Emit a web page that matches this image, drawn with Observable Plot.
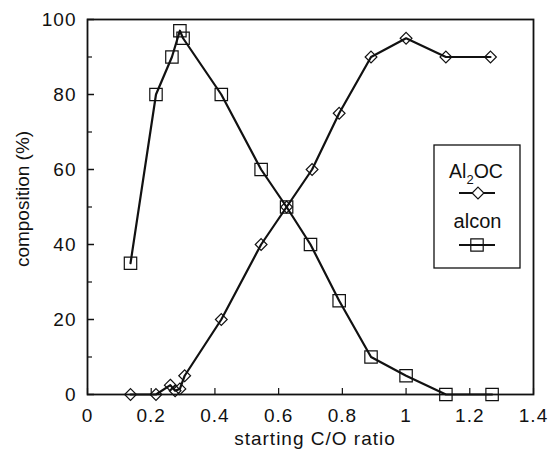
<!DOCTYPE html>
<html>
<head>
<meta charset="utf-8">
<script src="https://cdn.jsdelivr.net/npm/d3@7"></script>
<script src="https://cdn.jsdelivr.net/npm/@observablehq/plot@0.6"></script>
<style>
  html, body { margin: 0; padding: 0; background: #fff; }
  #chart svg { overflow: visible; display: block; }
  #chart svg g[aria-label="x-axis tick label"] text,
  #chart svg g[aria-label="y-axis tick label"] text { letter-spacing: 1px; }
</style>
</head>
<body>
<div id="chart"></div>
<script>
// ---- data ----
const al2ocX = [0.135, 0.215, 0.26, 0.275, 0.29, 0.305, 0.42, 0.545, 0.625, 0.705, 0.79, 0.89, 1.00, 1.125, 1.265];
const al2ocY = [0, 0, 2.5, 1, 1.5, 5, 20, 40, 50, 60, 75, 90, 95, 90, 90];
const alconX = [0.135, 0.215, 0.265, 0.29, 0.30, 0.42, 0.545, 0.625, 0.70, 0.79, 0.89, 1.00, 1.125, 1.27];
const alconY = [35, 80, 90, 97, 95, 80, 60, 50, 40, 25, 10, 5, 0, 0];
const xTicks = [0, 0.2, 0.4, 0.6, 0.8, 1, 1.2, 1.4];
const yTicks = [0, 20, 40, 60, 80, 100];
const yMinorTicks = [10, 30, 50, 70, 90];
const xLabel = "starting C/O ratio";
const yLabel = "composition (%)";
const seriesNames = ["Al2OC", "alcon"];

const al2oc = al2ocX.map((x, i) => ({x, y: al2ocY[i]}));
const alcon = alconX.map((x, i) => ({x, y: alconY[i]}));

const W = 549, H = 455;
const mL = 87, mR = 16, mT = 19, mB = 61;
const plotW = W - mL - mR, plotH = H - mT - mB;
const ink = "#111";
const font = "'Liberation Sans', Arial, Helvetica, sans-serif";

const plot = Plot.plot({
  width: W, height: H,
  marginLeft: mL, marginRight: mR, marginTop: mT, marginBottom: mB,
  style: {fontFamily: font, fontSize: "19px", color: ink, background: "#fff"},
  x: {domain: [0, 1.4]},
  y: {domain: [0, 100]},
  marks: [
    Plot.axisX({ticks: xTicks, tickSize: 0, tickPadding: 14, label: null, fontSize: 19, tickFormat: d => String(d)}),
    Plot.axisY({ticks: yTicks, tickSize: 0, tickPadding: 11, label: null, fontSize: 19}),
    // inward ticks
    Plot.tickY(yTicks, {y: d => d, stroke: ink, strokeWidth: 1.5, insetRight: plotW - 7}),
    Plot.tickY(yMinorTicks, {y: d => d, stroke: ink, strokeWidth: 1.2, insetRight: plotW - 5}),
    Plot.tickX(xTicks, {x: d => d, stroke: ink, strokeWidth: 1.2, insetTop: plotH - 6}),
    Plot.line(alcon, {x: "x", y: "y", stroke: ink, strokeWidth: 2.2}),
    Plot.line(al2oc, {x: "x", y: "y", stroke: ink, strokeWidth: 2.2}),
    Plot.dot(alcon, {x: "x", y: "y", symbol: "square", r: 7, fill: "none", stroke: ink, strokeWidth: 1.2}),
    Plot.dot(al2oc, {x: "x", y: "y", symbol: "diamond2", r: 5.3, fill: "none", stroke: ink, strokeWidth: 1.2}),
    Plot.frame({stroke: ink, strokeWidth: 1.8})
  ]
});
document.getElementById("chart").appendChild(plot);

// ---- titles and legend ----
const svg = d3.select(plot);
svg.append("text")
  .attr("x", 315).attr("y", 445)
  .attr("text-anchor", "middle")
  .attr("font-family", font).attr("font-size", 19)
  .attr("letter-spacing", "1px")
  .attr("fill", ink)
  .text(xLabel);
svg.append("text")
  .attr("transform", "translate(29,199) rotate(-90)")
  .attr("text-anchor", "middle")
  .attr("font-family", font).attr("font-size", 19)
  .attr("fill", ink)
  .text(yLabel);

const lg = svg.append("g");
lg.append("rect").attr("x", 434).attr("y", 145).attr("width", 86).attr("height", 123)
  .attr("fill", "#fff").attr("stroke", ink).attr("stroke-width", 1.3);
const t1 = lg.append("text").attr("x", 476).attr("y", 177.5).attr("text-anchor", "middle")
  .attr("font-family", font).attr("font-size", 19.5).attr("fill", ink);
t1.append("tspan").text("Al");
t1.append("tspan").attr("font-size", 13).attr("dy", 6).text("2");
t1.append("tspan").attr("dy", -6).text("OC");
lg.append("line").attr("x1", 459).attr("x2", 495).attr("y1", 193).attr("y2", 193)
  .attr("stroke", ink).attr("stroke-width", 2.2);
lg.append("path").attr("transform", "translate(478,193)")
  .attr("d", d3.symbol(d3.symbolDiamond2, 5.3 * 5.3 * Math.PI)())
  .attr("fill", "#fff").attr("stroke", ink).attr("stroke-width", 1.2);
lg.append("text").attr("x", 477.5).attr("y", 228).attr("text-anchor", "middle")
  .attr("font-family", font).attr("font-size", 20).attr("fill", ink).text(seriesNames[1]);
lg.append("line").attr("x1", 459).attr("x2", 495).attr("y1", 245).attr("y2", 245)
  .attr("stroke", ink).attr("stroke-width", 2.2);
lg.append("path").attr("transform", "translate(477,245)")
  .attr("d", d3.symbol(d3.symbolSquare, 7 * 7 * Math.PI)())
  .attr("fill", "none").attr("stroke", ink).attr("stroke-width", 1.2);
</script>
</body>
</html>
